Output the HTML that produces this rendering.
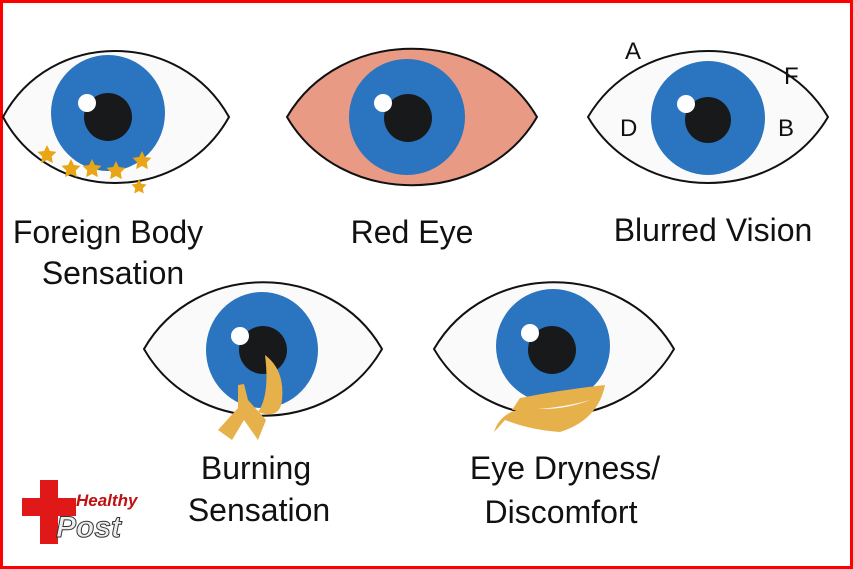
<!DOCTYPE html>
<html><head><style>
body{margin:0;width:853px;height:569px;overflow:hidden;background:#fff}
svg{display:block}
text{font-family:"Liberation Sans",sans-serif;fill:#111}
</style></head><body>
<svg width="853" height="569" viewBox="0 0 853 569">
<defs>
<polygon id="st" points="0,-10 2.9,-4 9.5,-3.1 4.7,1.5 5.9,8.1 0,5 -5.9,8.1 -4.7,1.5 -9.5,-3.1 -2.9,-4" fill="#e8a516"/>
</defs>
<rect x="1.5" y="1.5" width="850" height="566" fill="#fff" stroke="#f00" stroke-width="3"/>
<!-- eye1 -->
<path d="M3,117 C50,29 180,29 229,117 C180,205 50,205 3,117Z" fill="#fafafa" stroke="#111" stroke-width="2"/>
<ellipse cx="108" cy="113" rx="57" ry="58" fill="#2b74bf"/>
<circle cx="108" cy="117" r="24" fill="#17191b"/>
<circle cx="87" cy="103" r="9" fill="#fff"/>
<use href="#st" x="47" y="155"/><use href="#st" x="71" y="169"/><use href="#st" x="92" y="169"/><use href="#st" x="116" y="171"/><use href="#st" x="142" y="161"/>
<use href="#st" x="139" y="187" transform="translate(139,187) scale(0.8) translate(-139,-187)"/>
<!-- eye2 -->
<path d="M287,117 C340,26 484,26 537,117 C484,208 340,208 287,117Z" fill="#e89a85" stroke="#111" stroke-width="2"/>
<circle cx="407" cy="117" r="58" fill="#2b74bf"/>
<circle cx="408" cy="118" r="24" fill="#17191b"/>
<circle cx="383" cy="103" r="9" fill="#fff"/>
<!-- eye3 -->
<path d="M588,117 C640,29 776,29 828,117 C776,205 640,205 588,117Z" fill="#fafafa" stroke="#111" stroke-width="2"/>
<circle cx="708" cy="118" r="57" fill="#2b74bf"/>
<circle cx="708" cy="120" r="23" fill="#17191b"/>
<circle cx="686" cy="104" r="9" fill="#fff"/>
<text x="625" y="59" font-size="24">A</text>
<text x="784" y="84" font-size="24">F</text>
<text x="620" y="136" font-size="24">D</text>
<text x="778" y="136" font-size="24">B</text>
<!-- eye4 -->
<path d="M144,349 C195,260 331,260 382,349 C331,438 195,438 144,349Z" fill="#fafafa" stroke="#111" stroke-width="2"/>
<ellipse cx="262" cy="350" rx="56" ry="58" fill="#2b74bf"/>
<circle cx="263" cy="350" r="24" fill="#17191b"/>
<circle cx="240" cy="336" r="9" fill="#fff"/>
<path d="M265,355 Q285,370 282,400 Q280,420 258,412 Q270,395 265,355Z" fill="#e6b04a"/>
<path d="M238,385 L244,384 L248,400 L266,420 L258,440 L244,420 L232,440 L218,430 L238,408Z" fill="#e6b04a"/>
<!-- eye5 -->
<path d="M434,349 C486,260 622,260 674,349 C622,438 486,438 434,349Z" fill="#fafafa" stroke="#111" stroke-width="2"/>
<circle cx="553" cy="346" r="57" fill="#2b74bf"/>
<circle cx="552" cy="350" r="24" fill="#17191b"/>
<circle cx="530" cy="333" r="9" fill="#fff"/>
<path d="M520,398 Q560,390 605,385 Q598,420 560,432 Q530,430 505,420 Q498,428 494,432 Q500,412 525,408 Q560,412 590,400 Q555,410 512,410Z" fill="#e6b04a"/>
<!-- labels -->
<g font-size="32" text-anchor="middle">
<text x="108" y="243">Foreign Body</text>
<text x="113" y="284">Sensation</text>
<text x="412" y="243">Red Eye</text>
<text x="713" y="241">Blurred Vision</text>
<text x="256" y="479">Burning</text>
<text x="259" y="521">Sensation</text>
<text x="565" y="479">Eye Dryness/</text>
<text x="561" y="523">Discomfort</text>
</g>
<!-- logo -->
<path d="M40,480 h18 v18 h18 v18 h-18 v28 h-18 v-28 h-18 v-18 h18z" fill="#e01818"/>
<text x="76" y="506" font-size="17" font-weight="bold" style="fill:#c01010;font-style:italic">Healthy</text>
<text x="56" y="537" font-size="30" font-weight="bold" style="fill:#eee;stroke:#333;stroke-width:1;font-style:italic">Post</text>
</svg>
</body></html>
